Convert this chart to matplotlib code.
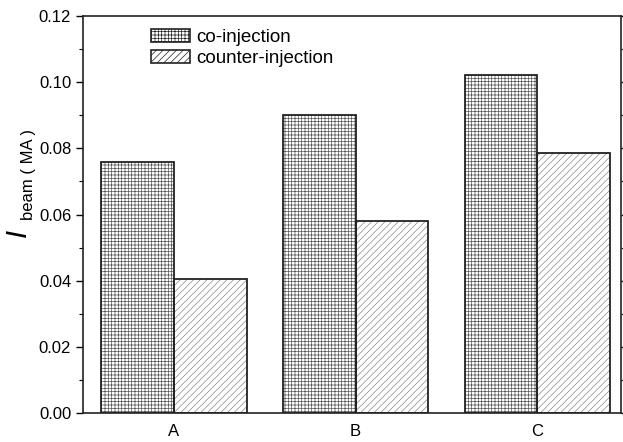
# Bar chart of beam current for co- and counter-injection cases.
import numpy as np
import matplotlib
matplotlib.use("Agg")
import matplotlib.pyplot as plt
from matplotlib.patches import Patch

# Data.
cases = ["A", "B", "C"]
co_injection = [0.0759, 0.0901, 0.1022]
counter_injection = [0.0404, 0.0581, 0.0785]
y_ticks = [0.00, 0.02, 0.04, 0.06, 0.08, 0.10, 0.12]

# Use an Arial-like font everywhere.
plt.rcParams["font.family"] = "Liberation Sans"
plt.rcParams["hatch.linewidth"] = 0.5

fig = plt.figure(figsize=(6.23, 4.42), dpi=100)
ax = fig.add_axes([0.1332, 0.0656, 0.8636, 0.8982])

x = np.arange(len(cases))
width = 0.4

# Hatched fills first, then black outlines on top.
ax.bar(x - width / 2, co_injection, width, color="white", edgecolor="#555555",
       hatch="+++++", linewidth=0)
ax.bar(x + width / 2, counter_injection, width, color="white", edgecolor="#888888",
       hatch="/////", linewidth=0)
ax.bar(x - width / 2, co_injection, width, fill=False, edgecolor="#222222", linewidth=1.3)
ax.bar(x + width / 2, counter_injection, width, fill=False, edgecolor="#222222", linewidth=1.3)

ax.set_xlim(-0.5, 2.46)
ax.set_ylim(0, 0.12)
ax.set_xticks(x)
ax.set_xticklabels(cases, fontsize=12)
ax.set_yticks(y_ticks)
ax.set_yticklabels([f"{v:.2f}" for v in y_ticks], fontsize=12)
ax.set_yticks(np.arange(0.01, 0.12, 0.02), minor=True)

ax.tick_params(axis="x", length=0, pad=8)
ax.tick_params(axis="y", which="major", direction="out", length=5, width=1, right=True)
ax.tick_params(axis="y", which="minor", direction="out", length=3, width=0.8, right=True)

for side in ax.spines.values():
    side.set_linewidth(1.2)
    side.set_color("#222222")

# Y label: large italic I with a smaller subscript, drawn as two texts.
fig.text(0.029, 0.472, "I", fontsize=21, style="italic", rotation=90,
         ha="center", va="center")
fig.text(0.045, 0.605, "beam ( MA )", fontsize=12, rotation=90,
         ha="center", va="center")

# Legend with hatched swatches and no frame.
handles = [
    Patch(facecolor="white", edgecolor="#222222", hatch="+++++", linewidth=1.2, label="co-injection"),
    Patch(facecolor="white", edgecolor="#222222", hatch="/////", linewidth=1.2, label="counter-injection"),
]
ax.legend(handles=handles, loc="upper left", bbox_to_anchor=(0.102, 1.0), frameon=False,
          fontsize=13.5, handlelength=2.1, handleheight=0.65, handletextpad=0.3,
          labelspacing=0.2, borderaxespad=0.3)

fig.savefig("out.png", dpi=100)
plt.close(fig)
